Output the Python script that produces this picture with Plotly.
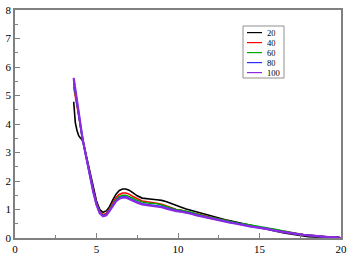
import plotly.graph_objects as go

X = [3.6,3.7,3.8,3.9,4.0,4.1,4.2,4.4,4.6,4.8,5.0,5.2,5.4,5.6,5.8,6.0,6.2,6.4,6.6,6.8,7.0,7.2,
     7.5,7.8,8.1,8.4,8.7,9.0,9.3,9.6,9.9,10.2,10.5,10.8,11.1,11.4,11.7,12.0,12.3,12.6,12.9,13.2,
     13.5,13.8,14.1,14.4,14.7,15.0,15.3,15.6,15.9,16.2,16.5,16.8,17.1,17.4,17.7,18.0,18.3,18.6,
     18.9,19.2,19.5,19.8,20.0]

y20 = [4.78,4.05,3.78,3.6,3.52,3.46,3.33,2.84,2.3,1.76,1.3,1.0,0.9,0.95,1.1,1.34,1.54,1.67,1.72,1.72,1.68,1.6,
       1.48,1.4,1.37,1.36,1.34,1.32,1.27,1.2,1.14,1.08,1.02,0.97,0.92,0.87,0.82,0.77,0.72,0.68,0.64,0.6,
       0.56,0.53,0.49,0.45,0.41,0.37,0.34,0.3,0.26,0.22,0.18,0.15,0.12,0.09,0.07,0.05,0.04,0.03,
       0.03,0.03,0.03,0.03,0.0]
y40 = [5.3,4.95,4.6,4.27,3.95,3.62,3.33,2.76,2.2,1.68,1.23,0.92,0.82,0.86,1.02,1.24,1.42,1.53,1.58,1.58,1.54,1.47,
       1.37,1.3,1.27,1.25,1.22,1.18,1.12,1.06,1.0,0.97,0.93,0.89,0.84,0.79,0.75,0.71,0.67,0.63,0.59,0.56,
       0.53,0.49,0.47,0.43,0.4,0.38,0.35,0.32,0.28,0.25,0.22,0.19,0.16,0.14,0.12,0.1,0.08,0.06,
       0.05,0.04,0.03,0.03,0.0]
y60 = [5.45,5.06,4.68,4.32,3.97,3.63,3.32,2.74,2.18,1.66,1.21,0.9,0.79,0.83,0.99,1.19,1.36,1.46,1.5,1.5,1.46,1.4,
       1.32,1.26,1.23,1.22,1.2,1.16,1.1,1.04,0.99,0.97,0.94,0.9,0.85,0.8,0.76,0.73,0.69,0.65,0.61,0.58,
       0.55,0.51,0.49,0.46,0.43,0.41,0.39,0.36,0.32,0.28,0.24,0.2,0.17,0.14,0.11,0.09,0.07,0.05,
       0.04,0.03,0.03,0.02,0.0]
y80 = [5.55,5.14,4.74,4.35,3.98,3.63,3.31,2.72,2.15,1.63,1.18,0.88,0.77,0.81,0.96,1.15,1.31,1.4,1.44,1.44,1.4,1.34,
       1.26,1.2,1.17,1.15,1.13,1.1,1.05,1.0,0.96,0.93,0.9,0.86,0.81,0.77,0.73,0.7,0.66,0.62,0.58,0.55,
       0.52,0.48,0.46,0.42,0.39,0.37,0.34,0.31,0.27,0.24,0.21,0.18,0.16,0.14,0.11,0.09,0.07,0.05,
       0.04,0.03,0.03,0.02,0.0]
y100 = [5.62,5.2,4.78,4.38,4.0,3.65,3.32,2.72,2.15,1.62,1.17,0.87,0.76,0.8,0.95,1.14,1.29,1.38,1.42,1.42,1.38,1.32,
        1.24,1.18,1.15,1.13,1.11,1.08,1.03,0.98,0.94,0.92,0.89,0.85,0.8,0.76,0.72,0.69,0.65,0.61,0.57,0.54,
        0.51,0.47,0.45,0.41,0.38,0.36,0.33,0.3,0.26,0.23,0.2,0.17,0.15,0.13,0.11,0.09,0.07,0.05,
        0.04,0.03,0.03,0.02,0.0]

names = ["20", "40", "60", "80", "100"]
series = [y20, y40, y60, y80, y100]
colors = ["#000000", "#ff0000", "#00a800", "#2b2bff", "#8a2be2"]
widths = [1.6, 1.6, 1.6, 1.8, 2.2]

W, H = 362, 256
L, R, T, B = 15, 341, 10, 238
pw, ph = R - L, B - T
SERIF = "Liberation Serif, Times New Roman, serif"

fig = go.Figure()
for n, ys, c, w in zip(names, series, colors, widths):
    fig.add_trace(go.Scatter(x=X, y=ys, mode="lines", name=n,
                             line=dict(color=c, width=w), showlegend=False))

def px(xp):
    return (xp - L) / pw

def py(yp):
    return (B - yp) / ph

shapes = []
annotations = []
shapes.append(dict(type="rect", xref="paper", yref="paper",
                   x0=px(243), x1=px(284), y0=py(78), y1=py(26),
                   line=dict(color="#909090", width=1), fillcolor="white"))
row0, dy = 32.6, 10.0
for i, (n, c) in enumerate(zip(names, colors)):
    yy = row0 + i * dy
    shapes.append(dict(type="line", xref="paper", yref="paper",
                       x0=px(247), x1=px(262), y0=py(yy), y1=py(yy),
                       line=dict(color=c, width=1.2)))
    annotations.append(dict(xref="paper", yref="paper", x=px(266), y=py(yy),
                            text=n, showarrow=False, xanchor="left", yanchor="middle",
                            height=9, borderpad=0,
                            font=dict(family=SERIF, size=8.6, color="black")))

axis_common = dict(showline=True, linecolor="#808080", linewidth=1.5, mirror=True,
                   ticks="inside", tickcolor="#808080", ticklen=5, tickwidth=1,
                   showgrid=False, zeroline=False, automargin=False,
                   tickfont=dict(family=SERIF, size=11, color="black"))

fig.update_layout(
    width=W, height=H,
    margin=dict(l=L, r=W - R, t=T, b=H - B, pad=0),
    paper_bgcolor="white", plot_bgcolor="white",
    xaxis=dict(range=[0, 20], dtick=5, tick0=0,
               minor=dict(ticks="inside", dtick=2.5, ticklen=3, tickcolor="#808080"),
               **axis_common),
    yaxis=dict(range=[0, 8], dtick=1, tick0=0,
               minor=dict(ticks="inside", dtick=0.5, ticklen=3, tickcolor="#808080"),
               **axis_common),
    shapes=shapes, annotations=annotations, showlegend=False,
)

fig.write_html("out.html")
